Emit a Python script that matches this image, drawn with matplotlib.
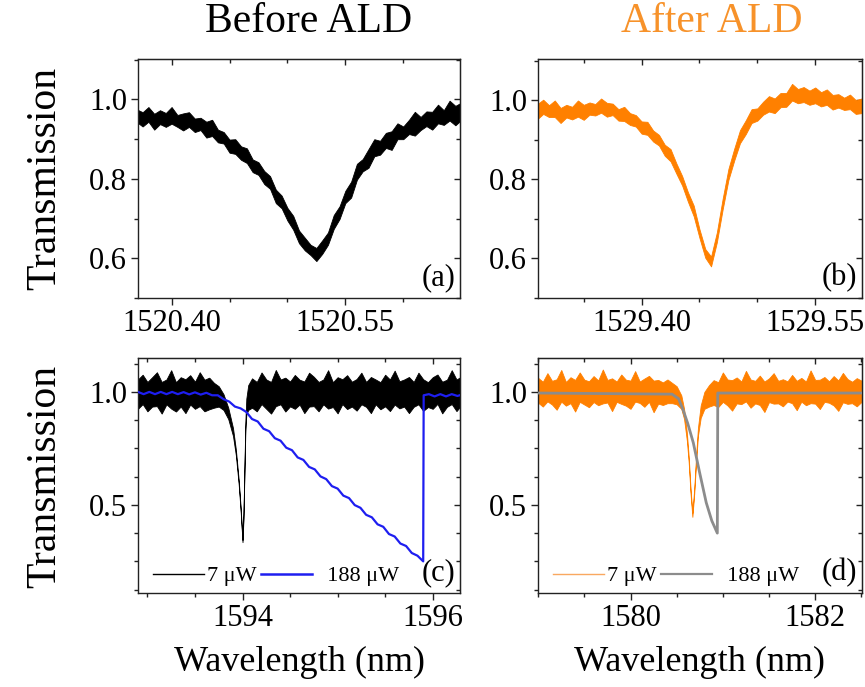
import matplotlib
matplotlib.use("Agg")
import matplotlib.pyplot as plt
from matplotlib.ticker import FixedLocator, MultipleLocator
from matplotlib.lines import Line2D
import numpy as np

plt.rcParams['font.family'] = ['Liberation Serif', 'DejaVu Serif']

# ---------------- Data ----------------
# (a) before ALD, single resonance
wl_a = [1520.370, 1520.375, 1520.380, 1520.385, 1520.390, 1520.395, 1520.400, 1520.405, 1520.410, 1520.415,
        1520.420, 1520.425, 1520.430, 1520.435, 1520.440, 1520.445, 1520.450, 1520.455, 1520.460, 1520.465,
        1520.470, 1520.475, 1520.480, 1520.485, 1520.490, 1520.495, 1520.500, 1520.505, 1520.510, 1520.515,
        1520.520, 1520.525, 1520.530, 1520.535, 1520.540, 1520.545, 1520.550, 1520.555, 1520.560, 1520.565,
        1520.570, 1520.575, 1520.580, 1520.585, 1520.590, 1520.595, 1520.600, 1520.605, 1520.610, 1520.615,
        1520.620, 1520.625, 1520.630, 1520.635, 1520.640, 1520.645, 1520.650]
trans_a = [0.957, 0.956, 0.955, 0.954, 0.953, 0.952, 0.951, 0.950, 0.948, 0.944,
           0.940, 0.935, 0.929, 0.922, 0.912, 0.900, 0.889, 0.878, 0.866, 0.852,
           0.838, 0.823, 0.806, 0.786, 0.763, 0.740, 0.712, 0.684, 0.658, 0.635,
           0.620, 0.615, 0.625, 0.652, 0.685, 0.720, 0.752, 0.778, 0.812, 0.838,
           0.856, 0.870, 0.883, 0.894, 0.904, 0.912, 0.920, 0.928, 0.935, 0.941,
           0.946, 0.951, 0.956, 0.959, 0.961, 0.964, 0.966]
noise_hi_a = [0.018, 0.012, 0.026, 0.010, 0.020, 0.014, 0.030, 0.011, 0.017, 0.024,
              0.012, 0.019, 0.015, 0.027, 0.012, 0.018, 0.010, 0.022, 0.016, 0.025,
              0.011, 0.019, 0.014, 0.021, 0.010, 0.018, 0.015, 0.023, 0.012, 0.017,
              0.014, 0.011, 0.020, 0.013, 0.024, 0.011, 0.018, 0.015, 0.026, 0.012,
              0.019, 0.030, 0.013, 0.022, 0.016, 0.028, 0.012, 0.021, 0.034, 0.015,
              0.024, 0.018, 0.031, 0.014, 0.036, 0.020, 0.026]
noise_lo_a = [0.014, 0.024, 0.011, 0.030, 0.015, 0.021, 0.012, 0.019, 0.026, 0.013,
              0.022, 0.012, 0.025, 0.014, 0.020, 0.011, 0.023, 0.015, 0.018, 0.012,
              0.021, 0.013, 0.019, 0.011, 0.024, 0.014, 0.017, 0.012, 0.020, 0.015,
              0.012, 0.022, 0.014, 0.018, 0.011, 0.021, 0.013, 0.025, 0.014, 0.019,
              0.028, 0.013, 0.022, 0.016, 0.031, 0.012, 0.020, 0.015, 0.026, 0.018,
              0.013, 0.027, 0.016, 0.023, 0.014, 0.029, 0.018]

# (b) after ALD, single resonance
wl_b = [1529.310, 1529.315, 1529.320, 1529.325, 1529.330, 1529.335, 1529.340, 1529.345, 1529.350, 1529.355,
        1529.360, 1529.365, 1529.370, 1529.375, 1529.380, 1529.385, 1529.390, 1529.395, 1529.400, 1529.405,
        1529.410, 1529.415, 1529.420, 1529.425, 1529.430, 1529.435, 1529.440, 1529.445, 1529.450, 1529.455,
        1529.460, 1529.465, 1529.470, 1529.475, 1529.480, 1529.485, 1529.490, 1529.495, 1529.500, 1529.505,
        1529.510, 1529.515, 1529.520, 1529.525, 1529.530, 1529.535, 1529.540, 1529.545, 1529.550, 1529.555,
        1529.560, 1529.565, 1529.570, 1529.575, 1529.580, 1529.585, 1529.590]
trans_b = [0.975, 0.978, 0.977, 0.972, 0.968, 0.968, 0.972, 0.975, 0.974, 0.976,
           0.980, 0.982, 0.980, 0.974, 0.968, 0.962, 0.955, 0.946, 0.936, 0.926,
           0.912, 0.897, 0.878, 0.858, 0.830, 0.795, 0.758, 0.718, 0.665, 0.612,
           0.595, 0.653, 0.740, 0.810, 0.866, 0.905, 0.936, 0.955, 0.968, 0.978,
           0.985, 0.992, 0.998, 1.004, 1.012, 1.015, 1.012, 1.008, 1.006, 1.008,
           1.004, 0.998, 0.996, 0.994, 0.990, 0.986, 0.984]
noise_hi_b = [0.016, 0.024, 0.011, 0.028, 0.013, 0.021, 0.012, 0.025, 0.015, 0.019,
              0.011, 0.023, 0.014, 0.018, 0.010, 0.022, 0.013, 0.017, 0.011, 0.020,
              0.012, 0.016, 0.010, 0.019, 0.011, 0.014, 0.010, 0.016, 0.009, 0.012,
              0.010, 0.013, 0.011, 0.017, 0.012, 0.020, 0.014, 0.023, 0.012, 0.019,
              0.026, 0.013, 0.021, 0.015, 0.030, 0.014, 0.022, 0.017, 0.027, 0.013,
              0.024, 0.016, 0.020, 0.013, 0.025, 0.015, 0.021]
noise_lo_b = [0.022, 0.012, 0.019, 0.014, 0.025, 0.011, 0.020, 0.016, 0.023, 0.012,
              0.018, 0.013, 0.021, 0.011, 0.019, 0.014, 0.017, 0.012, 0.020, 0.013,
              0.016, 0.011, 0.018, 0.012, 0.015, 0.010, 0.014, 0.011, 0.013, 0.010,
              0.015, 0.012, 0.016, 0.011, 0.018, 0.013, 0.021, 0.012, 0.019, 0.014,
              0.013, 0.024, 0.015, 0.020, 0.012, 0.022, 0.016, 0.019, 0.013, 0.023,
              0.015, 0.021, 0.014, 0.018, 0.012, 0.020, 0.016]

# (c) before ALD, 7 uW (noisy) and 188 uW (thermal triangle)
wl_c = [1592.90, 1592.95, 1593.00, 1593.05, 1593.10, 1593.15, 1593.20, 1593.25, 1593.30, 1593.35,
        1593.40, 1593.45, 1593.50, 1593.55, 1593.60, 1593.65, 1593.70,
        1593.75, 1593.80, 1593.85, 1593.90, 1593.93, 1593.96, 1593.98, 1594.00, 1594.01, 1594.02,
        1594.03, 1594.04, 1594.06,
        1594.10, 1594.15, 1594.20, 1594.25, 1594.30, 1594.35, 1594.40, 1594.45, 1594.50, 1594.55,
        1594.60, 1594.65, 1594.70, 1594.75, 1594.80, 1594.85, 1594.90, 1594.95, 1595.00, 1595.05,
        1595.10, 1595.15, 1595.20, 1595.25, 1595.30, 1595.35, 1595.40, 1595.45, 1595.50, 1595.55,
        1595.60, 1595.65, 1595.70, 1595.75, 1595.80, 1595.85, 1595.90, 1595.95, 1596.00, 1596.05,
        1596.10, 1596.15, 1596.20, 1596.25, 1596.29]
trans_c_7uw = [0.995, 0.996, 0.994, 0.995, 0.997, 0.994, 0.995, 0.996, 0.993, 0.995,
               0.996, 0.994, 0.995, 0.997, 0.994, 0.993, 0.990,
               0.975, 0.950, 0.900, 0.820, 0.730, 0.600, 0.480, 0.340, 0.450, 0.650,
               0.850, 0.930, 0.970,
               0.990, 0.994, 0.996, 0.995, 0.994, 0.997, 0.995, 0.993, 0.996, 0.995,
               0.994, 0.996, 0.995, 0.997, 0.994, 0.995, 0.996, 0.993, 0.995, 0.996,
               0.994, 0.995, 0.997, 0.995, 0.994, 0.996, 0.995, 0.993, 0.996, 0.995,
               0.994, 0.997, 0.995, 0.996, 0.994, 0.995, 0.996, 0.993, 0.995, 0.997,
               0.995, 0.994, 0.996, 0.995, 0.995]
noise_hi_c = [0.060, 0.080, 0.050, 0.070, 0.090, 0.050, 0.060, 0.100, 0.050, 0.070,
              0.060, 0.080, 0.050, 0.090, 0.060, 0.070, 0.050,
              0.050, 0.040, 0.030, 0.020, 0.015, 0.010, 0.010, 0.005, 0.010, 0.010,
              0.020, 0.040, 0.060,
              0.070, 0.050, 0.090, 0.060, 0.050, 0.100, 0.060, 0.070, 0.050, 0.080,
              0.060, 0.050, 0.090, 0.070, 0.050, 0.060, 0.100, 0.050, 0.070, 0.060,
              0.080, 0.050, 0.060, 0.090, 0.050, 0.070, 0.060, 0.050, 0.080, 0.060,
              0.100, 0.050, 0.060, 0.070, 0.050, 0.090, 0.060, 0.050, 0.070, 0.080,
              0.050, 0.060, 0.100, 0.060, 0.070]
noise_lo_c = [0.070, 0.050, 0.080, 0.060, 0.060, 0.090, 0.050, 0.070, 0.080, 0.060,
              0.090, 0.050, 0.070, 0.060, 0.080, 0.070, 0.060,
              0.040, 0.030, 0.020, 0.015, 0.010, 0.010, 0.005, 0.005, 0.010, 0.010,
              0.020, 0.030, 0.050,
              0.060, 0.080, 0.050, 0.070, 0.090, 0.060, 0.050, 0.080, 0.060, 0.070,
              0.050, 0.090, 0.060, 0.060, 0.080, 0.050, 0.070, 0.060, 0.090, 0.050,
              0.070, 0.060, 0.080, 0.050, 0.060, 0.090, 0.050, 0.070, 0.060, 0.080,
              0.050, 0.070, 0.060, 0.090, 0.060, 0.050, 0.080, 0.060, 0.070, 0.050,
              0.090, 0.060, 0.050, 0.080, 0.060]
wl_c_188 = [1592.90, 1592.96, 1593.02, 1593.08, 1593.14, 1593.20, 1593.26, 1593.32, 1593.38, 1593.44,
            1593.50, 1593.56, 1593.62, 1593.68, 1593.74, 1593.80, 1593.86, 1593.92, 1593.98,
            1594.04, 1594.10, 1594.16, 1594.22, 1594.28, 1594.34, 1594.40, 1594.46, 1594.52, 1594.58,
            1594.64, 1594.70, 1594.76, 1594.82, 1594.88, 1594.94, 1595.00, 1595.06, 1595.12, 1595.18,
            1595.24, 1595.30, 1595.36, 1595.42, 1595.48, 1595.54, 1595.60, 1595.66, 1595.72, 1595.78,
            1595.84, 1595.90, 1595.905, 1595.96, 1596.02, 1596.08, 1596.14, 1596.20, 1596.26, 1596.29]
trans_c_188 = [1.000, 0.990, 1.000, 0.990, 1.000, 0.990, 1.000, 0.990, 0.999, 0.989,
               0.998, 0.988, 0.996, 0.985, 0.985, 0.968, 0.957, 0.935, 0.927,
               0.911, 0.880, 0.869, 0.837, 0.826, 0.795, 0.784, 0.753, 0.742, 0.710,
               0.699, 0.668, 0.657, 0.626, 0.614, 0.583, 0.572, 0.541, 0.530, 0.499,
               0.487, 0.456, 0.445, 0.414, 0.403, 0.371, 0.360, 0.329, 0.318, 0.287,
               0.275, 0.250, 0.985, 0.990, 0.980, 0.990, 0.980, 0.990, 0.982, 0.986]

# (d) after ALD, 7 uW (noisy) and 188 uW
wl_d = [1579.00, 1579.05, 1579.10, 1579.15, 1579.20, 1579.25, 1579.30, 1579.35, 1579.40, 1579.45,
        1579.50, 1579.55, 1579.60, 1579.65, 1579.70, 1579.75, 1579.80, 1579.85, 1579.90, 1579.95,
        1580.00, 1580.05, 1580.10, 1580.15, 1580.20, 1580.25, 1580.30, 1580.35, 1580.40, 1580.45,
        1580.50, 1580.55, 1580.58, 1580.61, 1580.63, 1580.65, 1580.67, 1580.69, 1580.71, 1580.73,
        1580.76, 1580.80,
        1580.85, 1580.90, 1580.95, 1581.00, 1581.05, 1581.10, 1581.15, 1581.20, 1581.25, 1581.30,
        1581.35, 1581.40, 1581.45, 1581.50, 1581.55, 1581.60, 1581.65, 1581.70, 1581.75, 1581.80,
        1581.85, 1581.90, 1581.95, 1582.00, 1582.05, 1582.10, 1582.15, 1582.20, 1582.25, 1582.30,
        1582.35, 1582.40, 1582.45, 1582.50]
trans_d_7uw = [1.002, 1.000, 1.003, 0.999, 1.001, 1.002, 0.999, 1.000, 1.003, 1.001,
               0.999, 1.002, 1.000, 1.001, 0.999, 1.003, 1.000, 1.001, 1.002, 0.999,
               1.000, 1.002, 1.001, 0.999, 1.001, 1.000, 0.998, 0.997, 0.995, 0.990,
               0.980, 0.950, 0.900, 0.800, 0.700, 0.560, 0.455, 0.560, 0.700, 0.820,
               0.910, 0.960,
               0.980, 0.992, 0.998, 1.001, 1.000, 1.002, 0.999, 1.001, 1.003, 1.000,
               0.999, 1.002, 1.001, 1.000, 1.003, 0.999, 1.001, 1.002, 1.000, 0.999,
               1.002, 1.001, 1.000, 1.003, 0.999, 1.001, 1.002, 1.000, 1.001, 0.999,
               1.002, 1.000, 1.001, 1.000]
noise_hi_d = [0.060, 0.045, 0.080, 0.050, 0.055, 0.095, 0.045, 0.065, 0.050, 0.085,
              0.055, 0.045, 0.070, 0.050, 0.100, 0.050, 0.060, 0.045, 0.075, 0.055,
              0.050, 0.090, 0.045, 0.060, 0.070, 0.050, 0.055, 0.045, 0.060, 0.050,
              0.045, 0.035, 0.025, 0.020, 0.015, 0.012, 0.010, 0.012, 0.015, 0.020,
              0.030, 0.040,
              0.050, 0.060, 0.045, 0.085, 0.055, 0.050, 0.065, 0.045, 0.090, 0.055,
              0.050, 0.070, 0.045, 0.060, 0.080, 0.050, 0.055, 0.045, 0.075, 0.050,
              0.060, 0.045, 0.095, 0.050, 0.055, 0.065, 0.045, 0.070, 0.050, 0.085,
              0.055, 0.045, 0.060, 0.050]
noise_lo_d = [0.050, 0.065, 0.045, 0.055, 0.080, 0.045, 0.060, 0.050, 0.090, 0.045,
              0.055, 0.070, 0.045, 0.060, 0.050, 0.050, 0.085, 0.045, 0.055, 0.060,
              0.075, 0.045, 0.050, 0.065, 0.045, 0.090, 0.050, 0.055, 0.045, 0.040,
              0.035, 0.025, 0.020, 0.015, 0.012, 0.010, 0.008, 0.010, 0.012, 0.015,
              0.025, 0.035,
              0.045, 0.050, 0.065, 0.045, 0.060, 0.085, 0.050, 0.055, 0.045, 0.070,
              0.050, 0.060, 0.090, 0.045, 0.055, 0.050, 0.065, 0.045, 0.050, 0.080,
              0.045, 0.060, 0.050, 0.055, 0.075, 0.045, 0.050, 0.060, 0.085, 0.045,
              0.055, 0.050, 0.065, 0.045]
wl_d_188 = [1579.00, 1580.45, 1580.52, 1580.57, 1580.62, 1580.68, 1580.75, 1580.82, 1580.88, 1580.94,
            1580.945, 1582.50]
trans_d_188 = [0.995, 0.990, 0.970, 0.920, 0.860, 0.775, 0.640, 0.510, 0.430, 0.375,
               0.995, 0.995]

titles = ['Before ALD', 'After ALD']
panel_labels = ['(a)', '(b)', '(c)', '(d)']
legend_labels = ['7 μW', '  188 μW']

# ---------------- Figure ----------------
W, H = 865, 687
fig = plt.figure(figsize=(W / 100, H / 100), dpi=100)

black = '#000000'
orange = '#FF8000'
blue = '#1E1EF0'
gray = '#8C8C8C'


def px_axes(left, top, right, bottom):
    return fig.add_axes([left / W, 1 - bottom / H, (right - left) / W, (bottom - top) / H])


def band(ax, x, y, hi, lo, color):
    x = np.array(x)
    y = np.array(y)
    ax.fill_between(x, y - np.array(lo), y + np.array(hi), color=color, lw=0.6, zorder=2)


def style(ax, xmaj, xmin, ymaj, ymin, xlim, ylim, xfmt):
    ax.set_xlim(*xlim)
    ax.set_ylim(*ylim)
    ax.xaxis.set_major_locator(FixedLocator(xmaj))
    ax.xaxis.set_minor_locator(MultipleLocator(xmin))
    ax.yaxis.set_major_locator(FixedLocator(ymaj))
    ax.yaxis.set_minor_locator(MultipleLocator(ymin))
    ax.set_xticklabels([xfmt.format(v) for v in xmaj])
    ax.set_yticklabels(['{:.1f}'.format(v) for v in ymaj])
    ax.tick_params(which='both', direction='out', labelsize=22, width=1.0, colors='#222222',
                   labelcolor='black')
    ax.tick_params(which='major', length=5, pad=3)
    ax.tick_params(which='minor', length=3)
    for s in ax.spines.values():
        s.set_color('#222222')
        s.set_linewidth(1.0)
    top = ax.secondary_xaxis('top')
    top.set_xticks(xmaj)
    top.xaxis.set_minor_locator(MultipleLocator(xmin))
    top.tick_params(which='both', direction='in', labeltop=False, width=1.0, colors='#222222')
    top.tick_params(which='major', length=4)
    top.tick_params(which='minor', length=3)
    right = ax.secondary_yaxis('right')
    right.set_yticks(ymaj)
    right.yaxis.set_minor_locator(MultipleLocator(ymin))
    right.tick_params(which='both', direction='in', labelright=False, width=1.0, colors='#222222')
    right.tick_params(which='major', length=4)
    right.tick_params(which='minor', length=3)


ax_a = px_axes(138, 59, 460, 298)
ax_b = px_axes(538, 59, 862, 298)
ax_c = px_axes(138, 358, 460, 593)
ax_d = px_axes(538, 358, 862, 593)

# (a)
band(ax_a, wl_a, trans_a, noise_hi_a, noise_lo_a, black)
style(ax_a, [1520.40, 1520.55], 0.05, [0.6, 0.8, 1.0], 0.1,
      (1520.371, 1520.649), (0.5, 1.102), '{:.2f}')

# (b)
band(ax_b, wl_b, trans_b, noise_hi_b, noise_lo_b, orange)
style(ax_b, [1529.40, 1529.55], 0.05, [0.6, 0.8, 1.0], 0.1,
      (1529.3105, 1529.5904), (0.5, 1.105), '{:.2f}')

# (c)
band(ax_c, wl_c, trans_c_7uw, noise_hi_c, noise_lo_c, black)
ax_c.plot(wl_c_188, trans_c_188, color=blue, lw=1.6, zorder=3)
style(ax_c, [1594, 1596], 0.5, [0.5, 1.0], 0.125,
      (1592.901, 1596.287), (0.11, 1.15), '{:.0f}')

# (d)
band(ax_d, wl_d, trans_d_7uw, noise_hi_d, noise_lo_d, orange)
ax_d.plot(wl_d_188, trans_d_188, color=gray, lw=2.0, zorder=3)
style(ax_d, [1580, 1582], 0.5, [0.5, 1.0], 0.125,
      (1578.998, 1582.507), (0.11, 1.15), '{:.0f}')

# legends
for ax, c1, c2, w2 in [(ax_c, black, blue, 1.8), (ax_d, '#F9A860', gray, 1.6)]:
    handles = [Line2D([], [], color=c1, lw=1.0), Line2D([], [], color=c2, lw=w2)]
    ax.legend(handles, legend_labels, loc='lower left', bbox_to_anchor=(0.025, 0.0), ncol=2,
              frameon=False, fontsize=16, handlelength=2.3, handletextpad=0.15,
              columnspacing=0.2, borderaxespad=0.1, borderpad=0.2)

for ax, lab in zip([ax_a, ax_b, ax_c, ax_d], panel_labels):
    ax.text(0.985, 0.025, lab, transform=ax.transAxes, ha='right', va='bottom', fontsize=22)

# titles and axis labels
fig.text(309 / W, 1 - 22 / H, titles[0], ha='center', va='center', fontsize=30, color='black')
fig.text(712 / W, 1 - 22 / H, titles[1], ha='center', va='center', fontsize=30, color='#F7922A')
fig.text(45 / W, 1 - 178 / H, 'Transmission', rotation=90, ha='center', va='center', fontsize=30)
fig.text(45 / W, 1 - 476 / H, 'Transmission', rotation=90, ha='center', va='center', fontsize=30)
fig.text(299 / W, 1 - 662 / H, 'Wavelength (nm)', ha='center', va='center', fontsize=26)
fig.text(700 / W, 1 - 662 / H, 'Wavelength (nm)', ha='center', va='center', fontsize=26)

fig.savefig('out.png', dpi=100)
